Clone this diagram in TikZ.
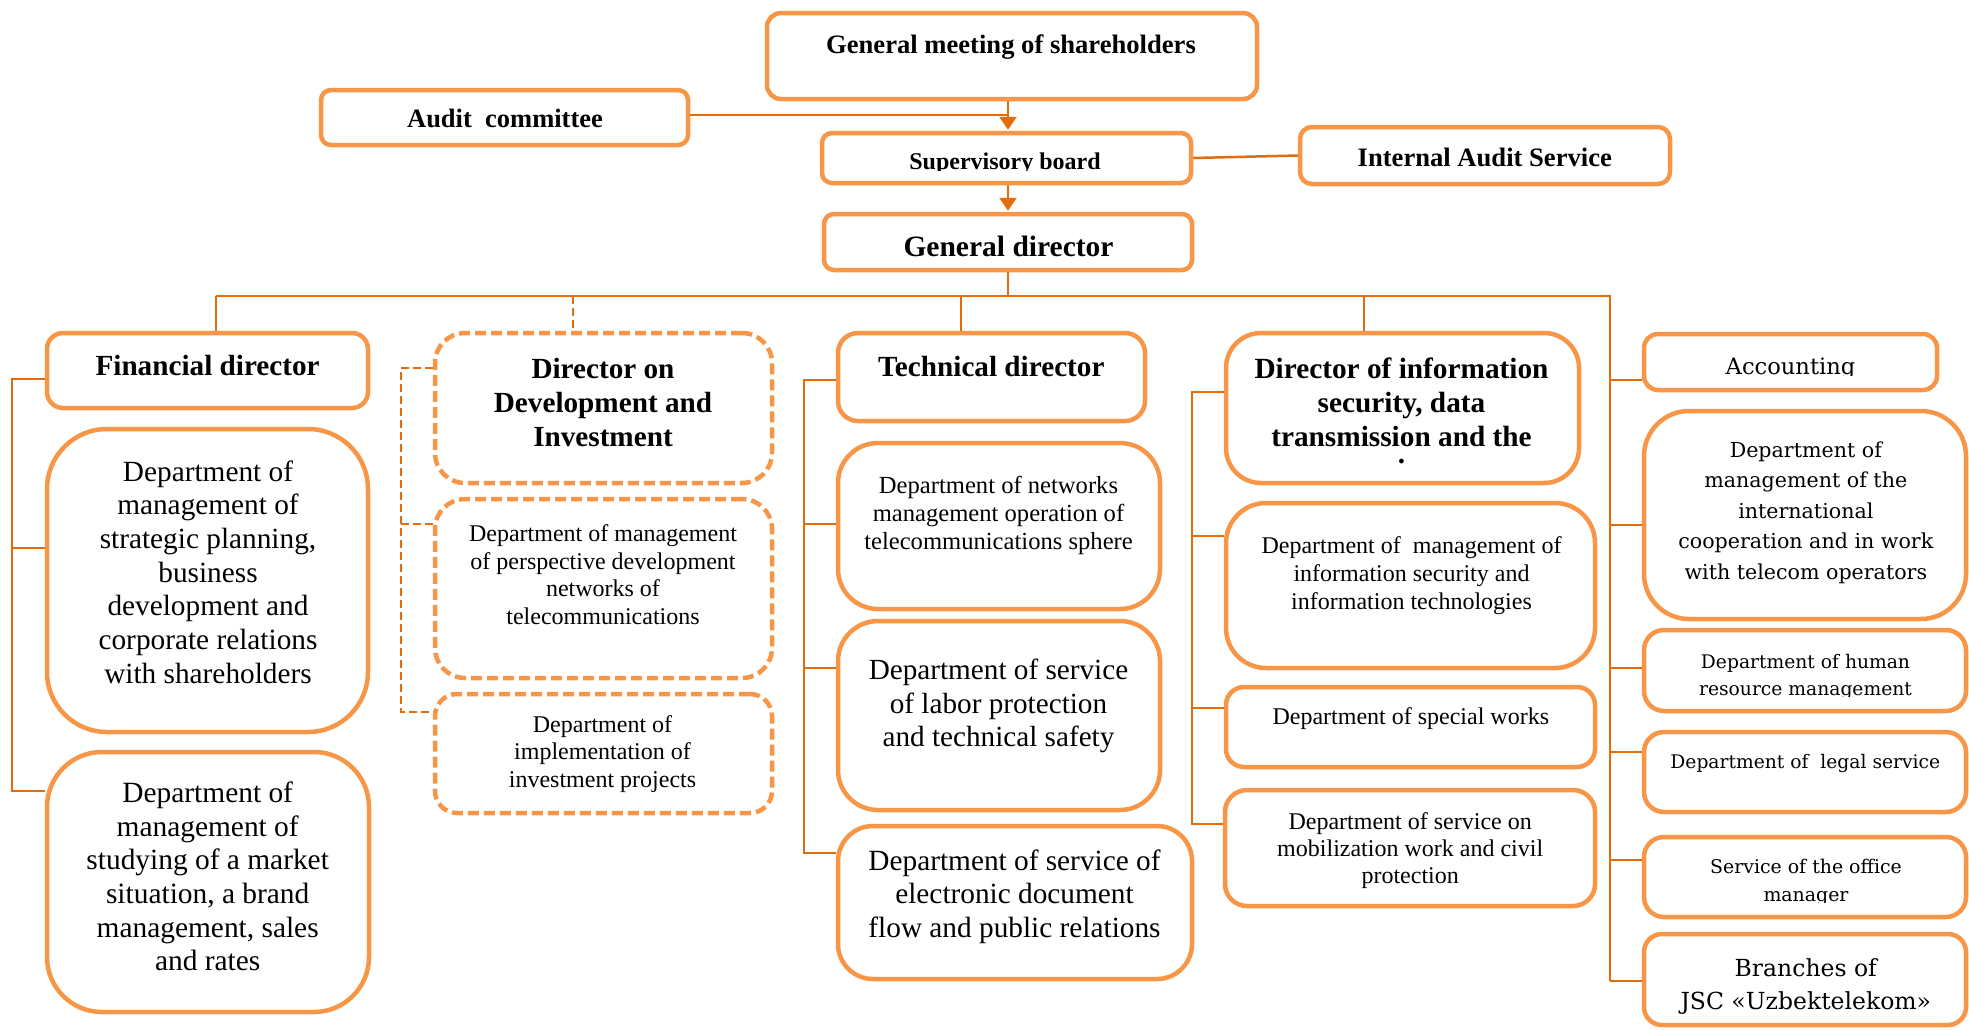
\documentclass[tikz,border=0pt]{standalone}
\usepackage{fontspec}
\setmainfont{Liberation Serif}
\newfontfamily\wideserif{DejaVu Serif}
\usetikzlibrary{arrows.meta}
\definecolor{boxc}{HTML}{F79646}
\definecolor{linec}{HTML}{E46C0A}
\newcommand\fs[2]{\fontsize{#1pt}{#2pt}\selectfont}
\begin{document}
\begin{tikzpicture}[x=1pt,y=-1pt,
  box/.style={draw=boxc,line width=4.5pt,rounded corners=#1,inner sep=0pt,fill=white},
  box/.default=12pt,
  dbox/.style={box=#1,dash pattern=on 11pt off 5pt},
  dbox/.default=25pt,
  txt/.style={align=center,inner sep=0pt},
  conn/.style={draw=linec,line width=2.5pt},
  dconn/.style={conn,dash pattern=on 8pt off 4pt},
  arr/.style={conn,-{Triangle[length=13pt,width=17pt]}},
]
\useasboundingbox (0,0) rectangle (1969,1029);

% ---------- boxes ----------
\node[box=14pt,minimum width=490pt,minimum height=86pt] (gm) at (1012,56) {};
\node[box=10pt,minimum width=367pt,minimum height=55pt] (ac) at (504.5,117.5) {};
\node[box=10pt,minimum width=369pt,minimum height=50pt] (sb) at (1006.5,158) {};
\node[box=12pt,minimum width=370pt,minimum height=57pt] (ias) at (1485,155.5) {};
\node[box=10pt,minimum width=368pt,minimum height=56pt] (gd) at (1008,242) {};

\node[box=16pt,minimum width=321pt,minimum height=75pt] (fin) at (207.5,370.5) {};
\node[box=60pt,minimum width=321pt,minimum height=303pt] (d1) at (207.5,580.5) {};
\node[box=55pt,minimum width=322pt,minimum height=260pt] (d2) at (208,882) {};

\node[dbox=30pt,minimum width=337pt,minimum height=150pt] (dev) at (603.5,408) {};
\node[dbox=30pt,minimum width=337pt,minimum height=179pt] (d3) at (603.5,588.5) {};
\node[dbox=22pt,minimum width=337pt,minimum height=119pt] (d4) at (603.5,753.5) {};

\node[box=20pt,minimum width=307pt,minimum height=88pt] (tech) at (991.5,377) {};
\node[box=40pt,minimum width=322pt,minimum height=166pt] (d5) at (999,526) {};
\node[box=40pt,minimum width=322pt,minimum height=189pt] (d6) at (999,715.5) {};
\node[box=35pt,minimum width=354pt,minimum height=153pt] (d7) at (1015,902.5) {};

\node[box=35pt,minimum width=353pt,minimum height=150pt] (info) at (1402.5,408) {};
\node[box=40pt,minimum width=369pt,minimum height=165pt] (d8) at (1410.5,585.5) {};
\node[box=18pt,minimum width=369pt,minimum height=80pt] (d9) at (1410.5,727) {};
\node[box=22pt,minimum width=370pt,minimum height=116pt] (d10) at (1410,848) {};

\node[box=14pt,minimum width=293pt,minimum height=56pt] (acc) at (1790.5,362) {};
\node[box=45pt,minimum width=322pt,minimum height=208pt] (d11) at (1805,515) {};
\node[box=20pt,minimum width=322pt,minimum height=81pt] (d12) at (1805,670.5) {};
\node[box=20pt,minimum width=322pt,minimum height=80pt] (d13) at (1805,772) {};
\node[box=20pt,minimum width=322pt,minimum height=80pt] (d14) at (1805,877) {};
\node[box=18pt,minimum width=322pt,minimum height=91pt] (d15) at (1805,979.5) {};

% ---------- top connectors ----------
\draw[arr,shorten >=1pt] (gm.south -| gd.north) -- (sb.north -| gd.north);
\coordinate (acj) at ([yshift=2.5pt]ac.east);
\draw[conn] (acj) -- (acj -| gd.north);
\draw[conn] (sb.east) -- (ias.west);
\draw[arr,shorten >=1pt] (sb.south -| gd.north) -- (gd.north);

% ---------- bus ----------
\coordinate (busY) at (0,296);
\coordinate (dF) at ([xshift=8.5pt]fin.north);
\coordinate (dD) at ([xshift=-30.5pt]dev.north);
\coordinate (dT) at ([xshift=-30.5pt]tech.north);
\coordinate (dI) at ([xshift=-38.5pt]info.north);
\coordinate (sR) at ([xshift=-32pt]acc.west);
\coordinate (r1) at ([yshift=-18pt]acc.west);
\coordinate (r2) at ([yshift=-10pt]d11.west);
\coordinate (r3) at ([yshift=2.5pt]d12.west);
\coordinate (r4) at ([yshift=20pt]d13.west);
\coordinate (r5) at ([yshift=17pt]d14.west);
\coordinate (r6) at ([yshift=-1.5pt]d15.west);

\draw[conn] (gd.south) -- (gd.south |- busY);
\draw[conn] (dF |- busY) -- (dF);
\draw[conn] (dT |- busY) -- (dT);
\draw[conn] (dI |- busY) -- (dI);
\draw[dconn] (dD |- busY) -- (dD);
\draw[conn] (dF |- busY) -| (r6 -| sR);
\foreach \t in {r1,r2,r3,r4,r5,r6} \draw[conn] (\t) -- (\t -| sR);

% ---------- financial column ----------
\coordinate (sL) at ([xshift=-33pt]fin.west);
\coordinate (f1) at ([yshift=-8.5pt]fin.west);
\coordinate (f2) at ([yshift=32.5pt]d1.west);
\coordinate (f3) at ([yshift=91pt]d2.west);
\draw[conn] (f1) -- (f1 -| sL) -- (f3 -| sL) -- (f3);
\draw[conn] (f2) -- (f2 -| sL);

% ---------- development column ----------
\coordinate (sD) at ([xshift=-32pt]dev.west);
\coordinate (v1) at ([yshift=40pt]dev.west);
\coordinate (v2) at ([yshift=64.5pt]d3.west);
\coordinate (v3) at ([yshift=41.5pt]d4.west);
\draw[dconn] (v1) -- (v1 -| sD) -- (v3 -| sD) -- (v3);
\draw[dconn] (v2) -- (v2 -| sD);

% ---------- technical column ----------
\coordinate (sT) at ([xshift=-32pt]tech.west);
\coordinate (c1) at ([yshift=-3pt]tech.west);
\coordinate (c2) at ([yshift=2pt]d5.west);
\coordinate (c3) at ([yshift=47.5pt]d6.west);
\coordinate (c4) at ([yshift=49.5pt]d7.west);
\draw[conn] (c1) -- (c1 -| sT) -- (c4 -| sT) -- (c4);
\draw[conn] (c2) -- (c2 -| sT);
\draw[conn] (c3) -- (c3 -| sT);

% ---------- information column ----------
\coordinate (sI) at ([xshift=-32pt]info.west);
\coordinate (i1) at ([yshift=16pt]info.west);
\coordinate (i2) at ([yshift=49.5pt]d8.west);
\coordinate (i3) at ([yshift=19pt]d9.west);
\coordinate (i4) at ([yshift=24pt]d10.west);
\draw[conn] (i1) -- (i1 -| sI) -- (i4 -| sI) -- (i4);
\draw[conn] (i2) -- (i2 -| sI);
\draw[conn] (i3) -- (i3 -| sI);

% ---------- texts ----------
\node[txt,font={\fs{26.6}{32}\bfseries}] (tgm) at (1011,46.9) {\strut General meeting of shareholders};
\node[txt,font={\fs{26.5}{32}\bfseries}] (tac) at (505,121.3) {\strut Audit~ committee};
\begin{scope}
\clip (820,131) rectangle (1193,170.5);
\node[txt,font={\fs{24}{29}\bfseries}] (tsb) at (1005,163.5) {\strut Supervisory board};
\end{scope}
\node[txt,font={\fs{26.6}{32}\bfseries}] (tias) at (1484.8,159.6) {\strut Internal Audit Service};
\node[txt,font={\fs{29.5}{35}\bfseries}] (tgd) at (1008.5,249) {\strut General director};

\node[txt,font={\fs{29.2}{35}\bfseries}] (tfin) at (207.6,368) {\strut Financial director};
\node[txt,font={\fs{29.3}{33.7}}] (td1) at (208,575.5) {\strut Department of\\management of\\strategic planning,\\business\\development and\\corporate relations\\with shareholders\strut};
\node[txt,font={\fs{29.4}{33.6}}] (td2) at (207.7,880) {\strut Department of\\management of\\studying of a market\\situation, a brand\\management, sales\\and rates\strut};

\node[txt,font={\fs{29.2}{33.8}\bfseries}] (tdev) at (603,406) {\strut Director on\\Development and\\Investment\strut};
\node[txt,font={\fs{24}{27.4}}] (td3) at (603,577.5) {\strut Department of management\\of perspective development\\networks of\\telecommunications\strut};
\node[txt,font={\fs{24}{27.3}}] (td4) at (602.5,754.5) {\strut Department of\\implementation of\\investment projects\strut};

\node[txt,font={\fs{29.2}{35}\bfseries}] (ttech) at (991.3,369) {\strut Technical director};
\node[txt,font={\fs{24.6}{28}}] (td5) at (998.5,515.7) {\strut Department of networks\\management operation of\\telecommunications sphere\strut};
\node[txt,font={\fs{29.2}{33.3}}] (td6) at (998.5,706.6) {\strut Department of service\\of labor protection\\and technical safety\strut};
\node[txt,font={\fs{29.3}{33.7}}] (td7) at (1014.5,897) {\strut Department of service of\\electronic document\\flow and public relations\strut};

\node[txt,font={\fs{29.3}{33.8}\bfseries}] (tinfo) at (1401.5,422.9) {\strut Director of information\\security, data\\transmission and the\\\raisebox{16.5pt}{.}\strut};
\node[txt,font={\fs{24}{28}}] (td8) at (1411.5,575.9) {\strut Department of~ management of\\information security and\\information technologies\strut};
\node[txt,font={\fs{24}{29}}] (td9) at (1410.8,718.2) {\strut Department of special works};
\node[txt,font={\fs{24}{27}}] (td10) at (1410.2,850.8) {\strut Department of service on\\mobilization work and civil\\protection\strut};

\begin{scope}
\clip (1642,332) rectangle (1939,375);
\node[txt,font={\wideserif\fs{22.6}{27}}] (tacc) at (1790.5,369) {\strut Accounting};
\end{scope}
\node[txt,font={\wideserif\fs{20.6}{30.45}}] (td11) at (1805.8,512) {\strut Department of\\management of the\\international\\cooperation and in work\\with telecom operators\strut};
\begin{scope}
\clip (1642,628) rectangle (1968,696);
\node[txt,font={\wideserif\fs{18.7}{26.5}}] (td12) at (1805.5,676.7) {\strut Department of human\\resource management\strut};
\end{scope}
\node[txt,font={\wideserif\fs{18.7}{23}}] (td13) at (1805.3,764.2) {\strut Department of~ legal service};
\begin{scope}
\clip (1642,835) rectangle (1968,902);
\node[txt,font={\wideserif\fs{18.9}{28}}] (td14) at (1806,881.4) {\strut Service of the office\\manager\strut};
\end{scope}
\node[txt,font={\wideserif\fs{23.5}{33.3}}] (td15) at (1805.8,986.6) {\strut Branches of\\JSC «Uzbektelekom»\strut};
\end{tikzpicture}
\end{document}
